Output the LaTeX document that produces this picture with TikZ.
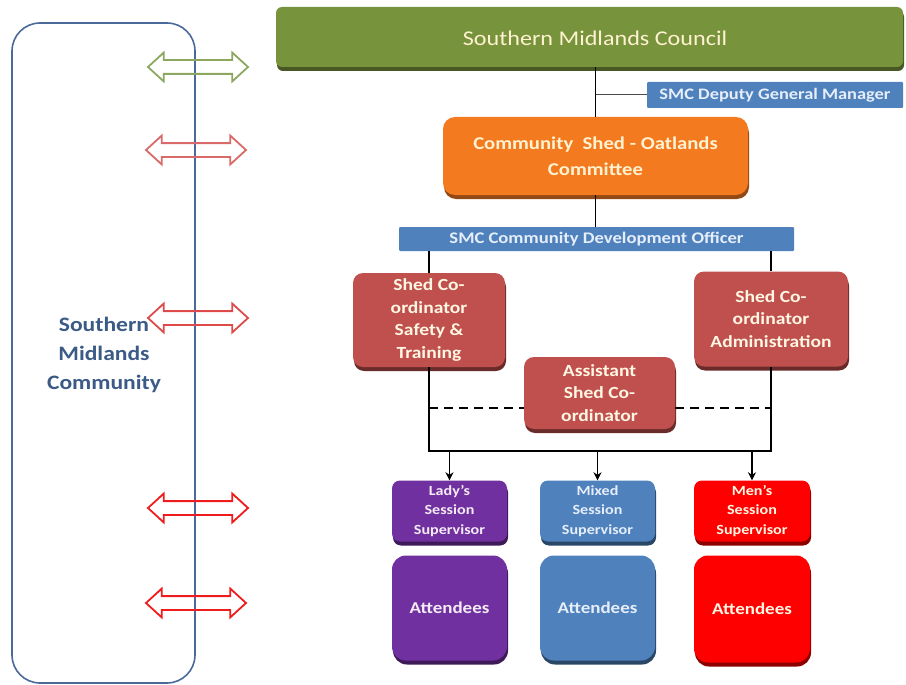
\documentclass[tikz,border=0pt]{standalone}
\usepackage{fontspec}
\setmainfont{Carlito}[FakeStretch=1.15]
\usetikzlibrary{shapes.arrows,shadows,arrows.meta}
\definecolor{cgreen}{HTML}{77933C}
\definecolor{corange}{HTML}{F47A1F}
\definecolor{cred}{HTML}{C0504D}
\definecolor{cblue}{HTML}{4F81BD}
\definecolor{cpurple}{HTML}{7030A0}
\definecolor{cbright}{HTML}{FF0000}
\definecolor{cframe}{HTML}{4A6A9A}
\definecolor{ctext}{HTML}{3B5B86}
\definecolor{agreen}{HTML}{8CA860}
\definecolor{ared1}{HTML}{D96A6A}
\definecolor{ared2}{HTML}{DE4A4A}
\definecolor{ared3}{HTML}{EE1C1C}
\definecolor{paletext}{HTML}{FFF2D0}
\definecolor{bluetext}{HTML}{E6EEFA}
\tikzset{
  bx/.style={rounded corners=#1, draw=none, text=white, align=center, inner sep=2pt, font=\bfseries},
  bx/.default=8pt,
  sh/.style={general shadow={fill=#1, shadow xshift=1pt, shadow yshift=-4pt}},
  dbl/.style={double arrow, draw=#1, line width=1.8pt, inner xsep=0pt, inner ysep=6pt,
    minimum height=100pt, double arrow head extend=7.5pt, double arrow tip angle=85},
  conn/.style={line width=1.8pt, draw=black},
}
\begin{document}
\begin{tikzpicture}[x=1pt,y=-1pt]
\useasboundingbox (0,0) rectangle (906,685);
% left frame
\node[draw=cframe, line width=1.6pt, rounded corners=28pt, minimum width=183pt, minimum height=660pt] (frame) at (103.5,353) {};
\node[text=ctext, align=center, font=\fontsize{20.5}{29}\selectfont\bfseries] (comm) at (104,355) {Southern\\Midlands\\Community};
% double arrows
\node[dbl=agreen] (a1) at (198,67) {};
\node[dbl=ared1] (a2) at (196,150) {};
\node[dbl=ared2] (a3) at (198,318) {};
\node[dbl=ared3] (a4) at (198,508) {};
\node[dbl=ared3] (a5) at (196,603) {};
% council
\node[bx=6pt, sh=cgreen!60!black, fill=cgreen, minimum width=627pt, minimum height=60pt] (council) at (589.5,37) {};
\node[text=paletext, font=\fontsize{21}{25}\selectfont] (counciltxt) at (595,38) {Southern Midlands Council};
% deputy
\node[bx=1pt, fill=cblue, text=bluetext, minimum width=256pt, minimum height=26pt, font=\fontsize{16}{18}\selectfont\bfseries] (deputy) at (775,95) {SMC Deputy General Manager};
% orange committee
\node[bx=12pt, sh=corange!60!black, fill=corange, text=paletext, minimum width=305pt, minimum height=78pt, font=\fontsize{18}{26}\selectfont\bfseries] (orange) at (595.5,156) {Community\ \ Shed - Oatlands\\Committee};
% CDO
\node[bx=1pt, fill=cblue, text=bluetext, minimum width=395pt, minimum height=24pt, font=\fontsize{16.2}{18}\selectfont\bfseries] (cdo) at (596.5,239) {SMC Community Development Officer};
% coordinators
\node[bx=10pt, sh=cred!55!black, fill=cred, text=paletext!60!white, minimum width=152pt, minimum height=94pt, font=\fontsize{17}{22.5}\selectfont\bfseries] (lc) at (429,320) {Shed Co-\\ordinator\\Safety \&\\Training};
\node[bx=10pt, sh=cred!55!black, fill=cred, text=paletext!60!white, minimum width=154pt, minimum height=95pt, font=\fontsize{17}{22.5}\selectfont\bfseries] (rc) at (771,319) {Shed Co-\\ordinator\\Administration};
\node[bx=10pt, sh=cred!55!black, fill=cred, text=paletext!60!white, minimum width=151pt, minimum height=72pt, font=\fontsize{17}{22.5}\selectfont\bfseries] (as) at (599.5,393) {Assistant\\Shed Co-\\ordinator};
% supervisors
\node[bx=8pt, sh=cpurple!55!black, fill=cpurple, text=violet!8!white, minimum width=115pt, minimum height=61pt, font=\fontsize{14}{19.5}\selectfont\bfseries] (lady) at (449.5,511) {Lady's\\Session\\Supervisor};
\node[bx=8pt, sh=cblue!55!black, fill=cblue, text=bluetext, minimum width=115pt, minimum height=61pt, font=\fontsize{14}{19.5}\selectfont\bfseries] (mixed) at (597.5,511) {Mixed\\Session\\Supervisor};
\node[bx=8pt, sh=cbright!55!black, fill=cbright, text=paletext!60!white, minimum width=116pt, minimum height=61pt, font=\fontsize{14}{19.5}\selectfont\bfseries] (men) at (752,511) {Men's\\Session\\Supervisor};
% attendees
\node[bx=14pt, sh=cpurple!55!black, fill=cpurple, text=violet!8!white, minimum width=115pt, minimum height=105pt, font=\fontsize{16.5}{18}\selectfont\bfseries] (att1) at (449.5,608) {Attendees};
\node[bx=14pt, sh=cblue!55!black, fill=cblue, text=bluetext, minimum width=115pt, minimum height=105pt, font=\fontsize{16.5}{18}\selectfont\bfseries] (att2) at (597.5,608) {Attendees};
\node[bx=14pt, sh=cbright!55!black, fill=cbright, text=paletext!60!white, minimum width=116pt, minimum height=107pt, font=\fontsize{16.5}{18}\selectfont\bfseries] (att3) at (752,609) {Attendees};
% connectors
\coordinate (bus) at (597,451);
\coordinate (dashy) at (597,408);
\draw[conn] (orange.north) -- (orange.north |- council.south);
\draw[conn, line width=1pt, draw=black!70] (orange.north |- deputy.west) -- (deputy.west);
\draw[conn] (orange.south) -- (orange.south |- cdo.north);
\draw[conn] (lc.north) -- (lc.north |- cdo.south);
\draw[conn] (rc.north) -- (rc.north |- cdo.south);
\draw[conn] (lc.south) -- (lc.south |- bus) -- (rc.south |- bus) -- (rc.south);
\draw[conn, dashed, dash pattern=on 9pt off 6pt] (lc.south |- dashy) -- (as.west |- dashy);
\draw[conn, dashed, dash pattern=on 9pt off 6pt] (as.east |- dashy) -- (rc.south |- dashy);
\draw[conn, -{Stealth[length=8pt,width=8pt]}] (lady.north |- bus) -- (lady.north);
\draw[conn, -{Stealth[length=8pt,width=8pt]}] (mixed.north |- bus) -- (mixed.north);
\draw[conn, -{Stealth[length=8pt,width=8pt]}] (men.north |- bus) -- (men.north);
\end{tikzpicture}
\end{document}
